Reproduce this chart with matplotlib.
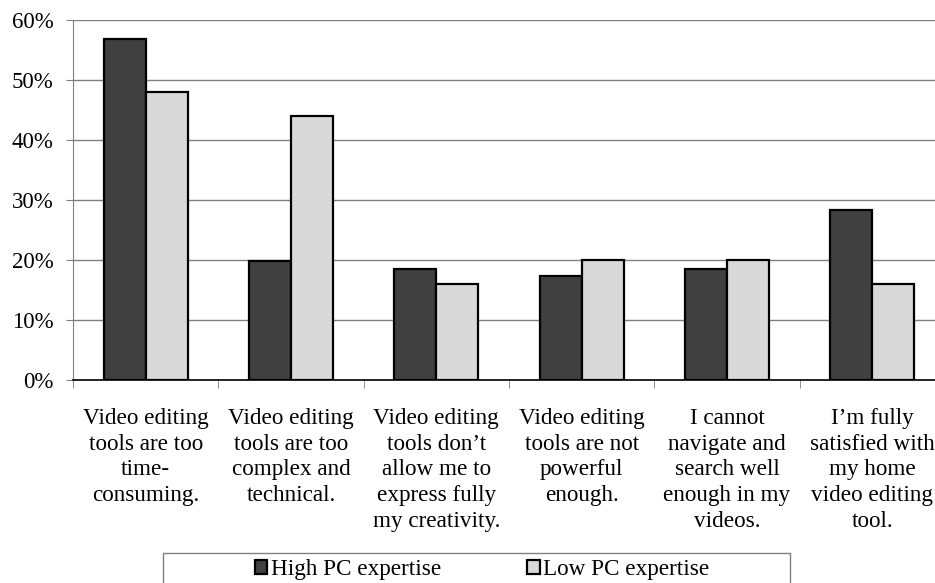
import numpy as np
import matplotlib.pyplot as plt
from matplotlib.patches import Rectangle
from matplotlib.ticker import FixedLocator, PercentFormatter

plt.rcParams['font.family'] = ['Liberation Serif', 'DejaVu Serif']

categories = [
    "Video editing\ntools are too\ntime-\nconsuming.",
    "Video editing\ntools are too\ncomplex and\ntechnical.",
    "Video editing\ntools don\u2019t\nallow me to\nexpress fully\nmy creativity.",
    "Video editing\ntools are not\npowerful\nenough.",
    "I cannot\nnavigate and\nsearch well\nenough in my\nvideos.",
    "I\u2019m fully\nsatisfied with\nmy home\nvideo editing\ntool.",
]
high_pc = [56.8, 19.8, 18.5, 17.3, 18.5, 28.4]
low_pc = [48.0, 44.0, 16.0, 20.0, 20.0, 16.0]
series_names = ["High PC expertise", "Low PC expertise"]

W, H = 935, 583
fig = plt.figure(figsize=(W/100, H/100), dpi=100)
# plot area runs a little past the right edge of the figure
ax = fig.add_axes([73/W, 1 - 380/H, 872/W, 360/H])

x = np.arange(len(categories))
w = 0.29
ax.bar(x - w/2, high_pc, w, color='#404040', edgecolor='black', linewidth=1.6,
       label=series_names[0], zorder=3)
ax.bar(x + w/2, low_pc, w, color='#d9d9d9', edgecolor='black', linewidth=1.6,
       label=series_names[1], zorder=3)

ax.set_xlim(-0.5, len(categories) - 0.5)
ax.set_ylim(0, 60)
ax.set_yticks(np.arange(0, 61, 10))
ax.yaxis.set_major_formatter(PercentFormatter(decimals=0))
ax.yaxis.grid(True, color='#808080', linewidth=1, zorder=0)

ax.set_xticks(x)
ax.set_xticklabels(categories, fontsize=16.7, linespacing=1.3, va='top')
ax.tick_params(axis='x', which='major', length=0, pad=20)
ax.xaxis.set_minor_locator(FixedLocator(np.arange(-0.5, len(categories), 1.0)))
ax.tick_params(axis='x', which='minor', length=6, direction='out', color='#808080')
ax.tick_params(axis='y', labelsize=16.5, length=5, direction='out', color='#808080', pad=9)

for s in ['top', 'right']:
    ax.spines[s].set_visible(False)
ax.spines['left'].set_color('#808080')
ax.spines['bottom'].set_color('black')
ax.spines['bottom'].set_linewidth(1.2)
ax.set_axisbelow(True)

# legend box, drawn on its own so the entries can sit off-centre inside it
fig.patches.append(Rectangle((163/W, -0.01), 627/W, 30/H + 0.01, transform=fig.transFigure,
                             facecolor='none', edgecolor='#808080', linewidth=1))
fig.legend(loc='center', bbox_to_anchor=(482/W, 1 - 570/H), ncol=2, fontsize=16.7,
           frameon=False, handlelength=0.55, handleheight=0.55, handletextpad=0.15,
           borderaxespad=0, borderpad=0, columnspacing=3.7)

fig.savefig('out.png', dpi=100)
